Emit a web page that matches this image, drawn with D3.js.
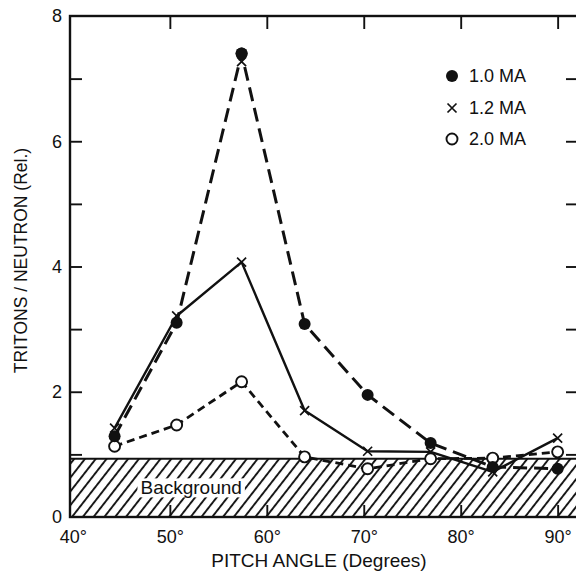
<!DOCTYPE html>
<html>
<head>
<meta charset="utf-8">
<script src="https://cdn.jsdelivr.net/npm/d3@7"></script>
<style>
  html, body { margin: 0; padding: 0; background: #fff; }
  svg { display: block; font-family: "Liberation Sans", Arial, Helvetica, sans-serif; }
</style>
</head>
<body>
<svg id="chart" width="576" height="575"></svg>
<script>
// Pitch-angle distribution of tritons per neutron at three plasma currents
const angles = [44.3, 50.7, 57.4, 63.9, 70.4, 76.9, 83.3, 90.0];
const ma10 = [1.29, 3.10, 7.40, 3.08, 1.95, 1.18, 0.80, 0.77];
const ma12 = [1.42, 3.21, 4.07, 1.70, 1.05, 1.04, 0.72, 1.26];
const ma20 = [1.13, 1.47, 2.16, 0.96, 0.77, 0.93, 0.94, 1.04];
const extraCross = [{ angle: 57.4, value: 7.27 }];
const backgroundLevel = 0.93;

const xTicks = [40, 50, 60, 70, 80, 90];
const yTicks = [0, 1, 2, 3, 4, 5, 6, 7, 8];
const yTickLabels = [0, 2, 4, 6, 8];
const legendLabels = ["1.0 MA", "1.2 MA", "2.0 MA"];
const xTitle = "PITCH ANGLE (Degrees)";
const yTitle = "TRITONS / NEUTRON (Rel.)";
const bgLabel = "Background";

const svg = d3.select("#chart");
const ink = "#111";

const x = d3.scaleLinear().domain([39.7, 92.1]).range([70, 578]);
const y = d3.scaleLinear().domain([0, 8]).range([517, 16]);

const [x0, x1] = x.range();
const [yb, yt] = y.range();

// hatch pattern for the background band
const defs = svg.append("defs");
const pat = defs.append("pattern")
  .attr("id", "hatch")
  .attr("patternUnits", "userSpaceOnUse")
  .attr("width", 8.5).attr("height", 8.5)
  .attr("patternTransform", "rotate(38)");
pat.append("line")
  .attr("x1", 1).attr("y1", 0).attr("x2", 1).attr("y2", 8.5)
  .attr("stroke", ink).attr("stroke-width", 1.9);

// background band
svg.append("rect")
  .attr("x", x0).attr("y", y(backgroundLevel))
  .attr("width", x1 - x0).attr("height", y(0) - y(backgroundLevel))
  .attr("fill", "url(#hatch)");
svg.append("line")
  .attr("x1", x0).attr("x2", x1)
  .attr("y1", y(backgroundLevel)).attr("y2", y(backgroundLevel))
  .attr("stroke", ink).attr("stroke-width", 2.2);

const bgText = svg.append("text")
  .attr("x", x(52.2)).attr("y", y(backgroundLevel / 2))
  .attr("text-anchor", "middle").attr("dominant-baseline", "central")
  .attr("font-size", 19).attr("fill", ink)
  .text(bgLabel);
const bb = bgText.node().getBBox();
svg.insert("rect", "text")
  .attr("x", bb.x - 3).attr("y", bb.y + 1)
  .attr("width", bb.width + 6).attr("height", bb.height - 2)
  .attr("fill", "#fff");

// axes with inward ticks
const axisLeftG = svg.append("g").attr("transform", `translate(${x0},0)`)
  .call(d3.axisLeft(y).tickValues(yTicks).tickSize(-12).tickPadding(8)
    .tickFormat(d => yTickLabels.includes(d) ? d : ""));
const axisRightG = svg.append("g").attr("transform", `translate(${x1},0)`)
  .call(d3.axisRight(y).tickValues(yTicks).tickSize(-12).tickFormat(""));
const axisBottomG = svg.append("g").attr("transform", `translate(0,${yb})`)
  .call(d3.axisBottom(x).tickValues(xTicks).tickSize(-12).tickPadding(13)
    .tickFormat(d => d + "°"));
const axisTopG = svg.append("g").attr("transform", `translate(0,${yt})`)
  .call(d3.axisTop(x).tickValues(xTicks).tickSize(-13).tickFormat(""));

[axisLeftG, axisRightG, axisBottomG, axisTopG].forEach(g => {
  g.select(".domain").remove();
  g.selectAll(".tick line").attr("stroke", ink).attr("stroke-width", 1.9);
  g.selectAll(".tick text").attr("fill", ink).attr("font-size", 18)
    .attr("font-family", "Liberation Sans, Arial, sans-serif");
});
[axisLeftG, axisRightG].forEach(g => g.selectAll(".tick").filter(d => d === 0 || d === 8).select("line").remove());
[axisBottomG, axisTopG].forEach(g => g.selectAll(".tick").filter(d => d === 40).select("line").remove());

// frame
svg.append("rect")
  .attr("x", x0).attr("y", yt)
  .attr("width", x1 - x0).attr("height", yb - yt)
  .attr("fill", "none").attr("stroke", ink).attr("stroke-width", 2.4);

// axis titles
svg.append("text")
  .attr("x", 319).attr("y", 567)
  .attr("text-anchor", "middle").attr("font-size", 19).attr("fill", ink)
  .text(xTitle);
svg.append("text")
  .attr("transform", `translate(27,${(yt + yb) / 2 - 6}) rotate(-90)`)
  .attr("text-anchor", "middle").attr("font-size", 17.5).attr("fill", ink)
  .text(yTitle);

// series
const series = [
  { label: legendLabels[0], values: ma10, dash: "14,7", width: 3, marker: "dot" },
  { label: legendLabels[1], values: ma12, dash: null, width: 2.4, marker: "cross" },
  { label: legendLabels[2], values: ma20, dash: "8,5", width: 2.8, marker: "ring" }
];

const line = d3.line().x(d => x(d.angle)).y(d => y(d.value));

series.forEach(s => {
  s.points = angles.map((a, i) => ({ angle: a, value: s.values[i] }));
  svg.append("path")
    .datum(s.points)
    .attr("d", line)
    .attr("fill", "none").attr("stroke", ink)
    .attr("stroke-width", s.width)
    .attr("stroke-dasharray", s.dash)
    .attr("stroke-linejoin", "round");
});

function drawMarker(g, kind, cx, cy) {
  if (kind === "dot") {
    g.append("circle").attr("cx", cx).attr("cy", cy).attr("r", 6).attr("fill", ink);
  } else if (kind === "ring") {
    g.append("circle").attr("cx", cx).attr("cy", cy).attr("r", 5.5)
      .attr("fill", "#fff").attr("stroke", ink).attr("stroke-width", 1.9);
  } else {
    const h = 4.5;
    g.append("path")
      .attr("d", `M${cx - h},${cy - h}L${cx + h},${cy + h}M${cx - h},${cy + h}L${cx + h},${cy - h}`)
      .attr("stroke", ink).attr("stroke-width", 1.7).attr("fill", "none");
  }
}

const markers = svg.append("g");
// crosses first, then rings and dots on top
[series[1], series[2], series[0]].forEach(s => {
  s.points.forEach(p => drawMarker(markers, s.marker, x(p.angle), y(p.value)));
});
extraCross.forEach(p => drawMarker(markers, "cross", x(p.angle), y(p.value)));
series[0].points.filter(p => p.value > 7).forEach(p => drawMarker(markers, "dot", x(p.angle), y(p.value)));

// legend
const legend = svg.append("g");
const legendRows = [76, 108, 139];
series.forEach((s, i) => {
  drawMarker(legend, s.marker, 452, legendRows[i]);
  legend.append("text")
    .attr("x", 469).attr("y", legendRows[i])
    .attr("dominant-baseline", "central")
    .attr("font-size", 18).attr("fill", ink)
    .text(s.label);
});
</script>
</body>
</html>
